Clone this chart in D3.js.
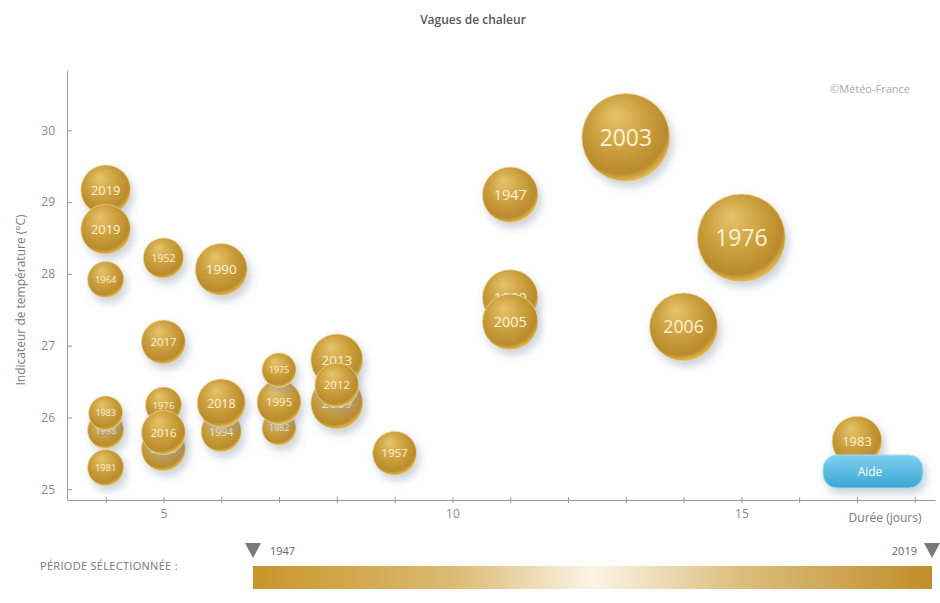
<!DOCTYPE html>
<html>
<head>
<meta charset="utf-8">
<script src="https://cdn.jsdelivr.net/npm/d3@7"></script>
<style>
  body { margin: 0; background: #fff; }
  #plot-canvas { width: 940px; height: 603px; }
  .axis path, .axis line { stroke: #9a9a9a; }
  .axis text { fill: #8a8a8a; font-family: "Open Sans", sans-serif; font-size: 12px; }
  .label { fill: #7a7a7a; font-family: "Open Sans", sans-serif; font-size: 12px; }
</style>
</head>
<body>
<div id="plot-canvas"></div>
<script>
// Vagues de chaleur : durée (jours), indicateur de température (°C), intensité (taille de bulle)
const annees = ["1998", "1983", "1981", "1964", "2019", "2019",
    "1976", "2015", "2016", "1952", "2017",
    "1994", "2018", "1990",
    "1982", "1995", "1975",
    "2009", "2013", "2012",
    "1957", "1990", "2005", "1947",
    "2003", "2006", "1976", "1983"];
const durees = [4, 4, 4, 4, 4, 4,
    5, 5, 5, 5, 5,
    6, 6, 6,
    7, 7, 7,
    8, 8, 8,
    9, 11, 11, 11,
    13, 14, 15, 17];
const temperatures = [25.82, 26.06, 25.30, 27.92, 29.17, 28.62,
    26.17, 25.56, 25.79, 28.22, 27.05,
    25.80, 26.20, 28.06,
    25.85, 26.21, 26.66,
    26.20, 26.80, 26.45,
    25.50, 27.67, 27.33, 29.10,
    29.90, 27.26, 28.50, 25.67];
const intensites = [17, 15, 17, 17, 32, 32,
    17, 25, 25, 21, 25,
    21, 30, 35,
    15, 25, 15,
    35, 35, 25,
    25, 40, 40, 40,
    100, 60, 100, 32];

const xTicks = [5, 10, 15];
const yTicks = [25, 26, 27, 28, 29, 30];
const periode = [1947, 2019];

const svg = d3.select("#plot-canvas").append("svg")
    .attr("width", 940)
    .attr("height", 603);

const defs = svg.append("defs");

const gold = defs.append("radialGradient")
    .attr("id", "gold")
    .attr("cx", "45%").attr("cy", "40%").attr("r", "60%")
    .attr("fx", "38%").attr("fy", "25%");
gold.append("stop").attr("offset", "0%").attr("stop-color", "#e6c46c");
gold.append("stop").attr("offset", "55%").attr("stop-color", "#cb9e3c");
gold.append("stop").attr("offset", "88%").attr("stop-color", "#b98b2c");
gold.append("stop").attr("offset", "100%").attr("stop-color", "#e0bb58");

const shadow = defs.append("filter")
    .attr("id", "shadow")
    .attr("x", "-50%").attr("y", "-50%").attr("width", "200%").attr("height", "200%");
shadow.append("feDropShadow")
    .attr("dx", 3).attr("dy", 5).attr("stdDeviation", 4)
    .attr("flood-color", "#8a9ab4").attr("flood-opacity", 0.45);

const barGrad = defs.append("linearGradient").attr("id", "bar");
barGrad.append("stop").attr("offset", "0%").attr("stop-color", "#c8952a");
barGrad.append("stop").attr("offset", "30%").attr("stop-color", "#dcbb75");
barGrad.append("stop").attr("offset", "50%").attr("stop-color", "#fbf5e6");
barGrad.append("stop").attr("offset", "72%").attr("stop-color", "#dcbd7c");
barGrad.append("stop").attr("offset", "100%").attr("stop-color", "#c08e2a");

const aideGrad = defs.append("linearGradient").attr("id", "aide")
    .attr("x1", 0).attr("y1", 0).attr("x2", 0).attr("y2", 1);
aideGrad.append("stop").attr("offset", "0%").attr("stop-color", "#7fd0ee");
aideGrad.append("stop").attr("offset", "100%").attr("stop-color", "#3aa6d3");

const x = d3.scaleLinear().domain([3.33, 18.35]).range([67, 935]);
const y = d3.scaleLinear().domain([24.85, 30.84]).range([500, 70]);
const r = d3.scaleSqrt().domain([0, 100]).range([0, 44]);

// Title
svg.append("text")
    .attr("x", 473).attr("y", 24)
    .attr("text-anchor", "middle")
    .style("font-family", "Open Sans, sans-serif")
    .style("font-size", "12px")
    .style("font-weight", "600")
    .style("fill", "#555")
    .text("Vagues de chaleur");

svg.append("text")
    .attr("x", 910).attr("y", 93)
    .attr("text-anchor", "end")
    .style("font-family", "Open Sans, sans-serif")
    .style("font-size", "11px")
    .style("fill", "#aaa")
    .text("©Météo-France");

//Draw x-axis
svg.append("g")
    .attr("class", "axis")
    .attr("transform", "translate(0,500)")
    .call(d3.axisBottom(x).tickValues(d3.range(4, 19)).tickSize(4).tickSizeOuter(0)
        .tickFormat(d => xTicks.includes(d) ? d : ""))
    .call(g => g.selectAll(".tick line").attr("y1", -3).attr("y2", 3))
    .call(g => g.selectAll(".tick text").attr("dy", "0.9em"));

svg.append("text")
    .attr("class", "label")
    .attr("x", 885).attr("y", 522)
    .attr("text-anchor", "middle")
    .text("Durée (jours)");

//Draw y-axis
svg.append("g")
    .attr("class", "axis")
    .attr("transform", "translate(67,0)")
    .call(d3.axisLeft(y).tickValues(yTicks).tickFormat(d3.format("d"))
        .tickSize(-5).tickSizeOuter(0).tickPadding(12));

svg.append("text")
    .attr("class", "label")
    .attr("transform", "translate(25,300) rotate(-90)")
    .attr("text-anchor", "middle")
    .text("Indicateur de température (°C)");

// Bubbles
const bulles = d3.range(annees.length);
const g = svg.append("g");
const bulle = g.selectAll("g.bulle")
    .data(bulles)
    .enter().append("g")
    .attr("class", "bulle")
    .attr("transform", i => "translate(" + x(durees[i]) + "," + y(temperatures[i]) + ")");

bulle.append("circle")
    .attr("r", i => r(intensites[i]))
    .attr("fill", "url(#gold)")
    .attr("stroke", "#f3dc97")
    .attr("stroke-opacity", 0.7)
    .attr("stroke-width", 1)
    .attr("filter", "url(#shadow)");

bulle.append("text")
    .attr("text-anchor", "middle")
    .attr("dy", "0.36em")
    .style("font-family", "Open Sans, sans-serif")
    .style("font-size", i => (r(intensites[i]) * 0.52) + "px")
    .style("fill", "#fdf3d8")
    .text(i => annees[i]);

// Aide button
svg.append("rect")
    .attr("x", 823).attr("y", 455)
    .attr("width", 100).attr("height", 33)
    .attr("rx", 14)
    .attr("fill", "url(#aide)")
    .attr("stroke", "#a6def2")
    .attr("filter", "url(#shadow)");
svg.append("text")
    .attr("x", 870).attr("y", 476)
    .attr("text-anchor", "middle")
    .style("font-family", "Open Sans, sans-serif")
    .style("font-size", "12px")
    .style("fill", "#fff")
    .text("Aide");

// Période sélectionnée
const p = d3.scaleLinear().domain(periode).range([253, 932]);

svg.append("text")
    .attr("x", 40).attr("y", 570)
    .style("font-family", "Open Sans, sans-serif")
    .style("font-size", "11px")
    .style("fill", "#777")
    .style("letter-spacing", "0.3px")
    .text("PÉRIODE SÉLECTIONNÉE :");

svg.append("rect")
    .attr("x", p(periode[0])).attr("y", 566)
    .attr("width", p(periode[1]) - p(periode[0])).attr("height", 23)
    .attr("fill", "url(#bar)");

svg.selectAll("path.curseur")
    .data(periode)
    .enter().append("path")
    .attr("class", "curseur")
    .attr("d", d => "M" + (p(d) - 8) + ",543 L" + (p(d) + 8) + ",543 L" + p(d) + ",558 Z")
    .attr("fill", "#7a7a7a");

svg.selectAll("text.annee")
    .data(periode)
    .enter().append("text")
    .attr("class", "annee")
    .attr("x", (d, i) => i === 0 ? p(d) + 17 : p(d) - 15)
    .attr("y", 555)
    .attr("text-anchor", (d, i) => i === 0 ? "start" : "end")
    .style("font-family", "Open Sans, sans-serif")
    .style("font-size", "11px")
    .style("fill", "#666")
    .text(d => d);
</script>
</body>
</html>
